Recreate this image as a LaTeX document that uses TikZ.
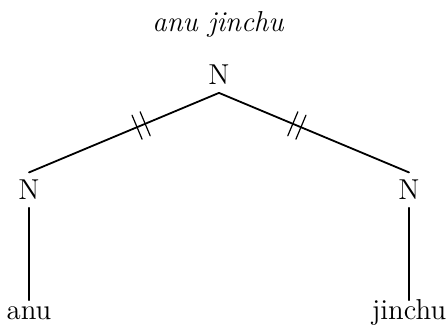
\documentclass[tikz,border=0pt]{standalone}
\usetikzlibrary{decorations.markings}
\begin{document}
\begin{tikzpicture}[x=.5pt, y=-.5pt, font=\Large, line width=.9pt, line cap=round,
  cat/.style={inner sep=3.5pt, anchor=base},
  leaf/.style={inner sep=2.5pt, anchor=base, text height=.7em, text depth=.2em},
  dbar/.style={postaction={decorate}, decoration={markings,
    mark=at position .41 with {\draw[line width=.6pt] (-2.2pt,-6.5pt)--(-2.2pt,6.5pt) (2.2pt,-6.5pt)--(2.2pt,6.5pt);}}}]
 	\useasboundingbox (0,0) rectangle (447,326);
 	\node[anchor=base, font=\Large\itshape] (ttl) at (218,32) {anu jinchu};
 	\node[cat] (top) at (219,85) {N};
 	\node[cat] (ln) at (29,200) {N};
 	\node[cat] (rn) at (409,200) {N};
 	\node[leaf] (anu) at (29,320) {anu};
 	\node[leaf] (jin) at (409,320) {jinchu};
 	\draw[dbar] (top.south) -- (ln.north);
 	\draw[dbar] (top.south) -- (rn.north);
 	\draw (ln.south) -- (anu.north)
 	(rn.south) -- (jin.north);
\end{tikzpicture}
\end{document}
